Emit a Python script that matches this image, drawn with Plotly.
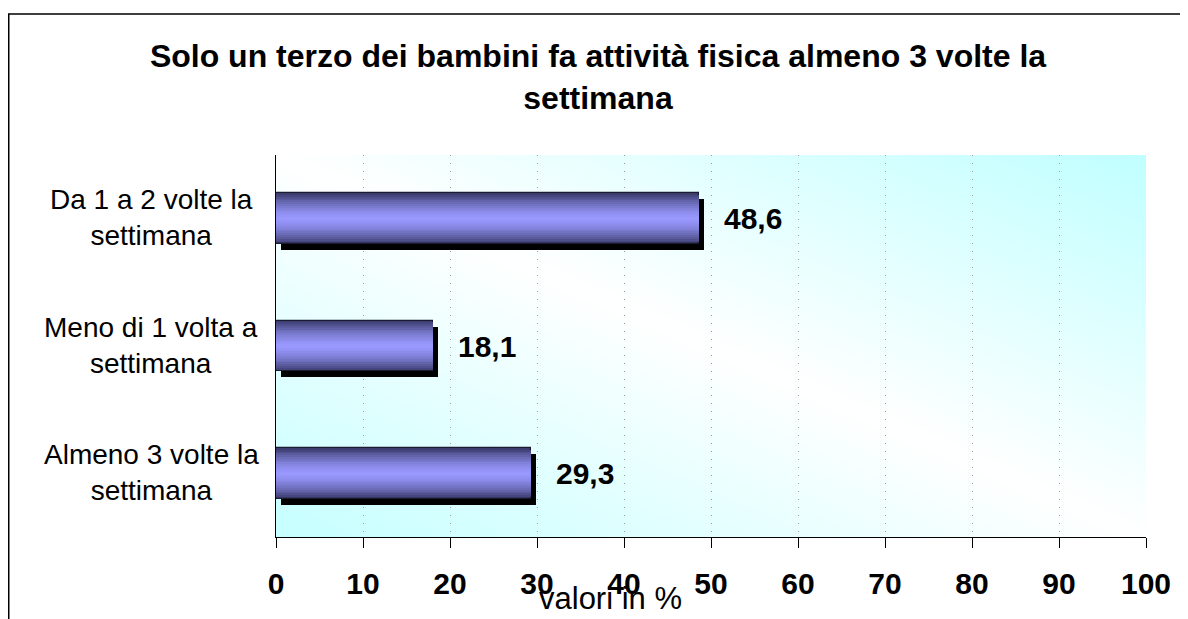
import base64
import plotly.graph_objects as go

categories = ["Da 1 a 2 volte la<br>settimana", "Meno di 1 volta a<br>settimana", "Almeno 3 volte la<br>settimana"]
values = [48.6, 18.1, 29.3]
value_labels = ["48,6", "18,1", "29,3"]
x_ticks = [0, 10, 20, 30, 40, 50, 60, 70, 80, 90, 100]

# page is offset by the 8px body margin
W, H = 1188, 619
L, R, T, B = 268, 50, 147, 90
PW, PH = W - L - R, H - T - B
FONT = "Liberation Sans, Arial, sans-serif"

BAR_W = 0.40
N_LAYERS = 14
dark = (60, 60, 110)
light = (153, 153, 255)

fig = go.Figure()

# shadow
fig.add_trace(go.Bar(
    y=categories, x=values, base=[5 * 100 / PW] * len(values), orientation="h",
    width=BAR_W, offset=-BAR_W / 2 + 6 / (PH / 3),
    marker=dict(color="black", line=dict(width=0)), hoverinfo="skip", showlegend=False,
))

# gradient layers
for i in range(N_LAYERS):
    frac = 1 - i / N_LAYERS
    d = frac ** 1.6
    col = tuple(round(light[k] + (dark[k] - light[k]) * d) for k in range(3))
    fig.add_trace(go.Bar(
        y=categories, x=values, orientation="h", width=BAR_W * frac,
        marker=dict(color="rgb(%d,%d,%d)" % col,
                    line=dict(width=1.2 if i == 0 else 0, color="#1a1a30")),
        hoverinfo="skip", showlegend=False,
    ))

annotations = []
for c, v, t in zip(categories, values, value_labels):
    annotations.append(dict(x=v, y=c, xref="x", yref="y", text="<b>%s</b>" % t,
                            showarrow=False, xanchor="left", yanchor="middle", xshift=23,
                            font=dict(family=FONT, size=30, color="black")))
    annotations.append(dict(x=(143 - L) / PW, y=c, xref="paper", yref="y", text=c,
                            showarrow=False, xanchor="center", yanchor="middle", align="center",
                            yshift=1,
                            font=dict(family=FONT, size=28, color="black")))

annotations.append(dict(x=(602 - L) / PW, y=(T + PH - 590) / PH, xref="paper", yref="paper",
                        text="valori in %", showarrow=False, xanchor="center", yanchor="middle",
                        font=dict(family=FONT, size=31, color="black")))

svg = ("<svg xmlns='http://www.w3.org/2000/svg' width='870' height='382' viewBox='0 0 870 382' "
       "preserveAspectRatio='none'><defs><linearGradient id='g' x1='1' y1='0' x2='0' y2='1'>"
       "<stop offset='0' stop-color='#c0ffff'/><stop offset='0.5' stop-color='#ffffff'/>"
       "<stop offset='1' stop-color='#c6ffff'/></linearGradient></defs>"
       "<rect width='870' height='382' fill='url(#g)'/></svg>")
src = "data:image/svg+xml;base64," + base64.b64encode(svg.encode()).decode()

fig.update_layout(
    width=W, height=H, margin=dict(l=L, r=R, t=T, b=B, autoexpand=False),
    paper_bgcolor="white", plot_bgcolor="rgba(0,0,0,0)",
    barmode="overlay", bargap=0,
    title=dict(text="<b>Solo un terzo dei bambini fa attività fisica almeno 3 volte la<br>settimana</b>",
               x=590 / W, xanchor="center", y=1 - 59 / H, yanchor="middle",
               font=dict(family=FONT, size=32, color="black")),
    images=[dict(source=src, xref="paper", yref="paper", x=0, y=1, sizex=1, sizey=1,
                 sizing="stretch", xanchor="left", yanchor="top", layer="below")],
    annotations=annotations,
    shapes=[dict(type="rect", xref="paper", yref="paper",
                 x0=(0.75 - L) / PW, x1=(1230 - L) / PW, y0=(T + PH - 660) / PH, y1=(T + PH - 6) / PH,
                 line=dict(color="black", width=1.5), fillcolor="rgba(0,0,0,0)", layer="above")],
    xaxis=dict(range=[0, 100], tickvals=x_ticks, ticktext=[str(v) for v in x_ticks],
               showgrid=True, gridcolor="#9a9a9a", griddash="1px,7px", gridwidth=1,
               showline=True, linecolor="black", linewidth=1, mirror=False,
               ticks="outside", ticklen=10, tickcolor="black", tickwidth=1,
               ticklabelstandoff=10, zeroline=False,
               tickfont=dict(family=FONT, size=30, color="black", weight="bold")),
    yaxis=dict(categoryorder="array", categoryarray=categories, autorange="reversed",
               showticklabels=False, showgrid=False, showline=True, linecolor="black",
               linewidth=1, ticks="", zeroline=False),
)

fig.write_html("out.html")
